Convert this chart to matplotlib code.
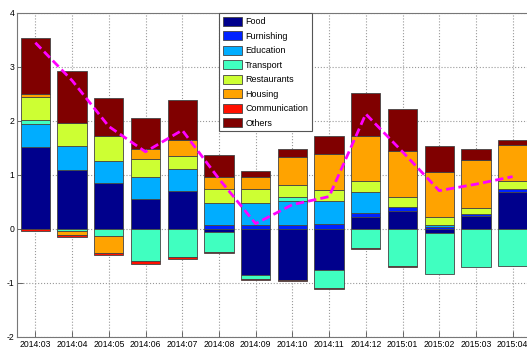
import numpy as np
import matplotlib
matplotlib.use("Agg")
import matplotlib.pyplot as plt

plt.rcParams['font.family'] = ['Liberation Sans', 'DejaVu Sans']
plt.rcParams['axes.unicode_minus'] = False

# 月ごとの寄与度（%ポイント）
months = ['2014:03', '2014:04', '2014:05', '2014:06', '2014:07', '2014:08', '2014:09',
          '2014:10', '2014:11', '2014:12', '2015:01', '2015:02', '2015:03', '2015:04']
food          = [1.52, 1.09, 0.85, 0.55, 0.70, -0.05, -0.85, -0.94, -0.76, 0.23, 0.34, -0.07, 0.24, 0.69]
furnishing    = [0.00, 0.01, 0.00, 0.00, 0.00, 0.07, 0.07, 0.07, 0.09, 0.06, 0.07, 0.04, 0.04, 0.06]
education     = [0.42, 0.43, 0.41, 0.41, 0.42, 0.42, 0.41, 0.44, 0.43, 0.40, 0.00, 0.03, 0.00, 0.00]
transport     = [0.08, -0.04, -0.13, -0.60, -0.52, -0.37, -0.07, 0.09, -0.33, -0.35, -0.69, -0.76, -0.70, -0.68]
restaurants   = [0.43, 0.44, 0.47, 0.34, 0.24, 0.26, 0.26, 0.21, 0.21, 0.20, 0.19, 0.15, 0.10, 0.14]
housing       = [0.05, -0.07, -0.32, 0.18, 0.29, 0.22, 0.23, 0.52, 0.66, 0.83, 0.84, 0.84, 0.89, 0.67]
communication = [-0.04, -0.04, -0.04, -0.04, -0.03, -0.03, -0.03, -0.03, -0.02, -0.02, -0.01, 0.00, 0.00, 0.00]
others        = [1.03, 0.96, 0.70, 0.58, 0.73, 0.40, 0.10, 0.15, 0.34, 0.79, 0.79, 0.48, 0.21, 0.09]
# 総合（折れ線）
total         = [3.45, 2.75, 1.90, 1.43, 1.83, 0.93, 0.10, 0.45, 0.60, 2.13, 1.43, 0.71, 0.83, 0.97]

names = ['Food', 'Furnishing', 'Education', 'Transport', 'Restaurants',
         'Housing', 'Communication', 'Others']
series = [food, furnishing, education, transport, restaurants, housing, communication, others]
colors = ['#00008c', '#0022ff', '#00adff', '#40ffc0', '#cdff33', '#ffa300', '#ff1000', '#800000']

fig = plt.figure(figsize=(5.27, 3.51), dpi=100)
ax = fig.add_axes([17 / 527, 14 / 351, 514 / 527, 324 / 351])

x = np.arange(1, len(months) + 1)
pos_base = np.zeros(len(x))
neg_base = np.zeros(len(x))
for name, vals, c in zip(names, series, colors):
    v = np.array(vals)
    base = np.where(v >= 0, pos_base, neg_base)
    ax.bar(x, v, 0.8, bottom=base, color=c, edgecolor='#444444', linewidth=0.6, label=name)
    pos_base += np.where(v >= 0, v, 0)
    neg_base += np.where(v < 0, v, 0)

ax.plot(x, total, color='#ff00ff', linewidth=2.0, linestyle=(0, (3, 1.5)))

ax.set_xlim(0.5, 14.5)
ax.set_ylim(-2, 4)
ax.set_xticks(x)
ax.set_xticklabels(months)
ax.set_yticks(range(-2, 5))
ax.tick_params(direction='in', length=4, width=0.6, color='#555555', labelsize=6.2, pad=2)
ax.grid(True, linestyle=':', color='#999999', linewidth=0.8)
ax.set_axisbelow(True)
for s in ax.spines.values():
    s.set_color('#777777')
    s.set_linewidth(0.8)

leg = ax.legend(loc='upper left', bbox_to_anchor=(219 / 527, 1 - 13 / 351),
                bbox_transform=fig.transFigure, fontsize=6.5, fancybox=False,
                framealpha=1, edgecolor='#555555', handlelength=2.2, handleheight=1.15,
                labelspacing=0.55, handletextpad=0.3, borderpad=0.4, borderaxespad=0)
leg.get_frame().set_linewidth(0.8)

fig.savefig('out.png', dpi=100)
